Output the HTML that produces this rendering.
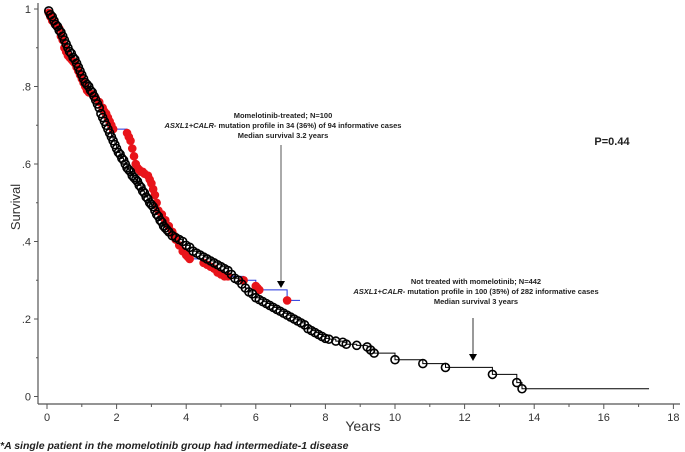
<!DOCTYPE html>
<html><head><meta charset="utf-8"><style>
body{margin:0;background:#fff;width:685px;height:452px;overflow:hidden}
svg{display:block;font-family:"Liberation Sans",Arial,sans-serif}
</style></head><body>
<svg id="c" width="685" height="452"></svg>
<script>
const xTicks=[0,2,4,6,8,10,12,14,16,18];
const yTicks=[0,0.2,0.4,0.6,0.8,1];
const yTickLabels=["0",".2",".4",".6",".8","1"];
const blackTimes=[0.05,0.1,0.15,0.2,0.25,0.3,0.35,0.4,0.45,0.5,0.55,0.6,0.65,0.7,0.75,0.8,0.85,0.9,0.95,1.0,1.05,1.1,1.15,1.2,1.25,1.3,1.35,1.4,1.45,1.5,1.55,1.6,1.65,1.7,1.75,1.8,1.85,1.9,1.95,2.0,2.05,2.1,2.15,2.2,2.25,2.3,2.35,2.4,2.45,2.5,2.55,2.6,2.65,2.7,2.75,2.8,2.85,2.9,2.95,3.0,3.05,3.1,3.15,3.2,3.25,3.3,3.35,3.4,3.45,3.5,3.6,3.7,3.8,3.9,4.0,4.1,4.2,4.3,4.4,4.5,4.6,4.7,4.8,4.9,5.0,5.1,5.2,5.3,5.4,5.5,5.6,5.7,5.8,5.9,6.0,6.1,6.2,6.3,6.4,6.5,6.6,6.7,6.8,6.9,7.0,7.1,7.2,7.3,7.4,7.5,7.6,7.7,7.8,7.9,8.0,8.1,8.3,8.5,8.6,8.9,9.2,9.3,9.4,10.0,10.8,11.45,12.8,13.5,13.65];
const blackSurv=[0.995,0.985,0.98,0.97,0.96,0.955,0.945,0.94,0.93,0.92,0.91,0.9,0.89,0.885,0.875,0.87,0.86,0.85,0.84,0.83,0.82,0.81,0.805,0.8,0.79,0.785,0.775,0.765,0.755,0.745,0.73,0.72,0.71,0.7,0.69,0.68,0.67,0.66,0.65,0.64,0.63,0.625,0.615,0.61,0.6,0.59,0.585,0.58,0.57,0.565,0.56,0.555,0.545,0.54,0.53,0.525,0.515,0.51,0.5,0.495,0.49,0.48,0.47,0.465,0.455,0.45,0.44,0.435,0.43,0.425,0.415,0.41,0.405,0.4,0.39,0.385,0.375,0.37,0.365,0.36,0.355,0.35,0.345,0.34,0.335,0.33,0.325,0.315,0.305,0.3,0.29,0.28,0.27,0.265,0.255,0.25,0.245,0.24,0.235,0.23,0.225,0.22,0.215,0.21,0.205,0.2,0.195,0.19,0.185,0.175,0.17,0.165,0.16,0.155,0.15,0.148,0.143,0.14,0.135,0.132,0.128,0.12,0.112,0.095,0.085,0.075,0.057,0.036,0.02];
const blackEnd=17.3;
const redTimes=[0.05,0.1,0.15,0.2,0.25,0.3,0.35,0.4,0.45,0.5,0.55,0.6,0.65,0.7,0.75,0.8,0.85,0.9,0.95,1.0,1.05,1.1,1.15,1.2,1.3,1.4,1.5,1.6,1.65,1.7,1.75,1.8,1.85,1.9,2.3,2.35,2.4,2.45,2.5,2.55,2.6,2.65,2.7,2.75,2.8,2.9,2.95,3.0,3.05,3.1,3.15,3.2,3.3,3.4,3.5,3.6,3.65,3.7,3.8,3.9,4.0,4.05,4.1,4.5,4.6,4.7,4.8,4.9,5.0,5.1,5.2,5.65,6.0,6.05,6.1,6.9];
const redSurv=[0.99,0.98,0.97,0.965,0.96,0.955,0.95,0.93,0.92,0.9,0.89,0.88,0.875,0.87,0.865,0.86,0.85,0.84,0.83,0.82,0.81,0.8,0.79,0.785,0.78,0.77,0.76,0.745,0.735,0.73,0.72,0.71,0.7,0.69,0.68,0.67,0.66,0.64,0.62,0.6,0.59,0.585,0.58,0.58,0.575,0.57,0.56,0.55,0.535,0.52,0.5,0.48,0.47,0.455,0.44,0.425,0.415,0.405,0.39,0.375,0.365,0.36,0.355,0.345,0.34,0.335,0.33,0.32,0.315,0.31,0.31,0.3,0.285,0.28,0.275,0.248];
const redEnd=7.27;
const NS="http://www.w3.org/2000/svg";
const svg=document.getElementById('c');
const X=t=>47+t*34.8, Y=s=>396.5-s*387.5;
function el(tag,attrs,parent){const e=document.createElementNS(NS,tag);for(const k in attrs)e.setAttribute(k,attrs[k]);(parent||svg).appendChild(e);return e;}
function txt(x,y,s,attrs){const t=el('text',Object.assign({x:x,y:y},attrs));t.textContent=s;return t;}
let a=el('line',{x1:38,y1:3,x2:38,y2:404,stroke:'#555','stroke-width':1.2});

a=el('line',{x1:38,y1:404,x2:680,y2:404,stroke:'#555','stroke-width':1.2});

yTicks.forEach((v,i)=>{el('line',{x1:34,x2:38,y1:Y(v),y2:Y(v),stroke:'#555'});
 if(i<yTicks.length-1)el('line',{x1:36,x2:38,y1:Y(v+0.1),y2:Y(v+0.1),stroke:'#555'});
 const t=txt(31,Y(v)+4,yTickLabels[i],{'text-anchor':'end','font-size':11,fill:'#333'});
 });
xTicks.forEach((v,i)=>{el('line',{x1:X(v),x2:X(v),y1:404,y2:409,stroke:'#555'});
 if(i<xTicks.length-1)el('line',{x1:X(v+1),x2:X(v+1),y1:404,y2:407,stroke:'#555'});
 const t=txt(X(v),421,String(v),{'text-anchor':'middle','font-size':11,fill:'#333'});
 });
let t=txt(363,431,'Years',{'text-anchor':'middle','font-size':14,fill:'#333'});

t=txt(0,0,'Survival',{'text-anchor':'middle','font-size':13,fill:'#333',transform:'translate(20,207) rotate(-90)'});

function stepPath(times,surv,end){let d='M'+X(0)+','+Y(1);
 times.forEach((tt,i)=>{d+=' H'+X(tt).toFixed(1)+' V'+Y(surv[i]).toFixed(1);});
 d+=' H'+X(end);return d;}
let p=el('path',{d:stepPath(blackTimes,blackSurv,blackEnd),fill:'none',stroke:'#000','stroke-width':1});

p=el('path',{d:stepPath(redTimes,redSurv,redEnd),fill:'none',stroke:'#2233dd','stroke-width':1});

const gr=el('g',{});
const gb=el('g',{});
redTimes.forEach((tt,i)=>{const c=el('circle',{cx:X(tt),cy:Y(redSurv[i]),r:4.3,fill:'#e8141a'},gr);
 });
blackTimes.forEach((tt,i)=>{const c=el('circle',{cx:X(tt),cy:Y(blackSurv[i]),r:4,fill:'none',stroke:'#000','stroke-width':1.6},gb);
 });
</script>
<svg width="685" height="452" style="position:absolute;left:0;top:0">
<g font-family="Liberation Sans, Arial, sans-serif" font-size="7.5" font-weight="bold" fill="#222" text-anchor="middle">
<g>
<text x="283" y="118">Momelotinib-treated; N=100</text>
<text x="283" y="128"><tspan font-style="italic">ASXL1+CALR-</tspan> mutation profile in 34 (36%) of 94 informative cases</text>
<text x="283" y="138">Median survival 3.2 years</text>
<line x1="281" y1="145" x2="281" y2="281" stroke="#555" stroke-width="1"/>
<polygon points="277,281 285,281 281,288" fill="#000"/>
</g>
<g>
<text x="476" y="284">Not treated with momelotinib; N=442</text>
<text x="476" y="294"><tspan font-style="italic">ASXL1+CALR-</tspan> mutation profile in 100 (35%) of 282 informative cases</text>
<text x="476" y="304">Median survival 3 years</text>
<line x1="473" y1="318" x2="473" y2="354" stroke="#333" stroke-width="1"/>
<polygon points="469,354 477,354 473,361" fill="#000"/>
</g>
<text x="612" y="145" font-size="11">P=0.44</text>
<text x="0" y="449" font-size="10.5" font-style="italic" text-anchor="start">*A single patient in the momelotinib group had intermediate-1 disease</text>
</g>
</svg>
</body></html>
